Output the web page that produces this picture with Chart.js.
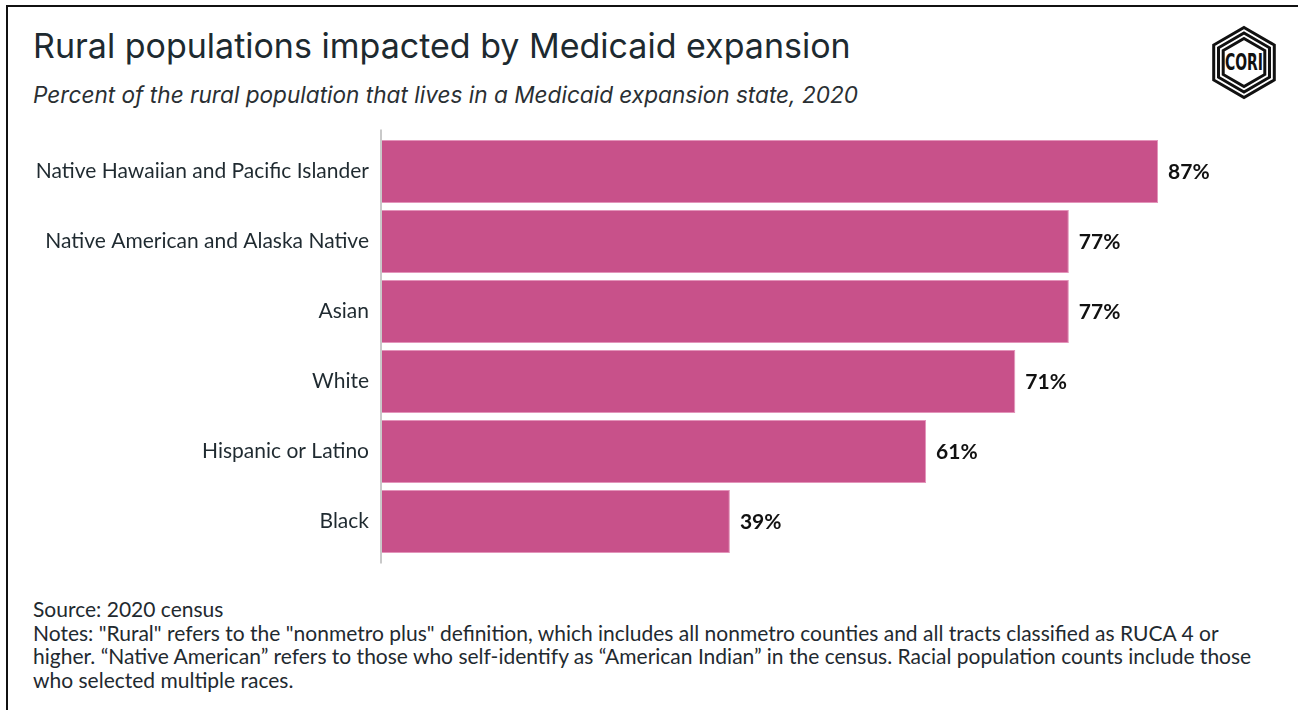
<!DOCTYPE html>
<html>
<head>
<meta charset="utf-8">
<script src="https://cdn.jsdelivr.net/npm/chart.js@4.4.0/dist/chart.umd.min.js"></script>
<style>
    body { margin: 0; background: #fff; }
    #wrap { position: relative; width: 1298px; height: 710px; overflow: hidden; background: #fff; }
    #frame { position: absolute; left: 6px; top: 5px; width: 1400px; height: 800px; border-top: 2px solid #111; border-left: 2px solid #111; }
    #title { position: absolute; left: 33px; top: 26px; font-family: Inter, sans-serif; font-size: 34px; line-height: 40px; color: #1d2a30; white-space: nowrap; }
    #subtitle { position: absolute; left: 33px; top: 81px; font-family: Inter, sans-serif; font-style: italic; font-size: 22.6px; line-height: 28px; color: #2a2f33; white-space: nowrap; }
    #notes { position: absolute; left: 33px; top: 597px; font-family: Lato, sans-serif; font-size: 21px; line-height: 23.5px; color: #1f2a30; width: 1235px; }
    #logo { position: absolute; left: 1205px; top: 21px; }
    canvas { position: absolute; left: 0; top: 0; }
</style>
</head>
<body>
<div id="wrap">
    <div id="frame"></div>
    <div id="title">Rural populations impacted by Medicaid expansion</div>
    <div id="subtitle">Percent of the rural population that lives in a Medicaid expansion state, 2020</div>
    <svg id="logo" width="80" height="84" viewBox="0 0 80 84">
        <g transform="translate(39,41.5)" fill="none" stroke="#111" stroke-width="3">
            <polygon points="0,-35 30.3,-17.5 30.3,17.5 0,35 -30.3,17.5 -30.3,-17.5"/>
            <polygon points="0,-29.5 25.5,-14.75 25.5,14.75 0,29.5 -25.5,14.75 -25.5,-14.75"/>
            <polygon points="0,-24 20.8,-12 20.8,12 0,24 -20.8,12 -20.8,-12"/>
        </g>
        <text x="39" y="49" text-anchor="middle" textLength="38" lengthAdjust="spacingAndGlyphs" font-family="Liberation Sans Narrow, DejaVu Sans Condensed, sans-serif" font-weight="bold" font-size="23" fill="#111">CORI</text>
    </svg>
    <div id="notes">Source: 2020 census<br>Notes: "Rural" refers to the "nonmetro plus" definition, which includes all nonmetro counties and all tracts classified as RUCA 4 or higher. “Native American” refers to those who self-identify as “American Indian” in the census. Racial population counts include those who selected multiple races.</div>
    <canvas id="chart" width="1298" height="710"></canvas>
</div>
<script>
const groups = ['Native Hawaiian and Pacific Islander', 'Native American and Alaska Native', 'Asian', 'White', 'Hispanic or Latino', 'Black'];
const shares = [87, 77, 77, 71, 61, 39];

const valueLabels = {
    id: 'valueLabels',
    afterDatasetsDraw(chart) {
        const ctx = chart.ctx;
        const meta = chart.getDatasetMeta(0);
        ctx.save();
        ctx.font = 'bold 21px Lato, sans-serif';
        ctx.fillStyle = '#111';
        ctx.textBaseline = 'middle';
        meta.data.forEach(function (bar, i) {
            ctx.fillText(shares[i] + '%', bar.x + 10, bar.y + 1);
        });
        ctx.restore();
    }
};

const axisLine = {
    id: 'axisLine',
    afterDraw(chart) {
        const ctx = chart.ctx;
        const area = chart.chartArea;
        ctx.save();
        ctx.strokeStyle = '#c9c9c9';
        ctx.lineWidth = 2;
        ctx.beginPath();
        ctx.moveTo(area.left - 1, area.top - 7);
        ctx.lineTo(area.left - 1, area.bottom + 7);
        ctx.stroke();
        ctx.restore();
    }
};

new Chart(document.getElementById('chart').getContext('2d'), {
    type: 'bar',
    data: {
        labels: groups,
        datasets: [{
            data: shares,
            backgroundColor: '#c8518a',
            borderColor: '#e394ba',
            borderWidth: 1,
            barPercentage: 0.9,
            categoryPercentage: 1
        }]
    },
    options: {
        indexAxis: 'y',
        responsive: false,
        animation: false,
        layout: {
            padding: { left: 0, right: 24, top: 136.5, bottom: 153.5 }
        },
        scales: {
            x: {
                display: false,
                min: 0,
                max: 100
            },
            y: {
                grid: { display: false, drawTicks: false },
                border: { display: false },
                ticks: {
                    padding: 13,
                    color: '#1f2a30',
                    font: { family: 'Lato, sans-serif', size: 21 }
                },
                afterFit: function (scale) {
                    scale.width = 382;
                }
            }
        },
        plugins: {
            legend: { display: false },
            tooltip: { enabled: false }
        }
    },
    plugins: [valueLabels, axisLine]
});
</script>
</body>
</html>
